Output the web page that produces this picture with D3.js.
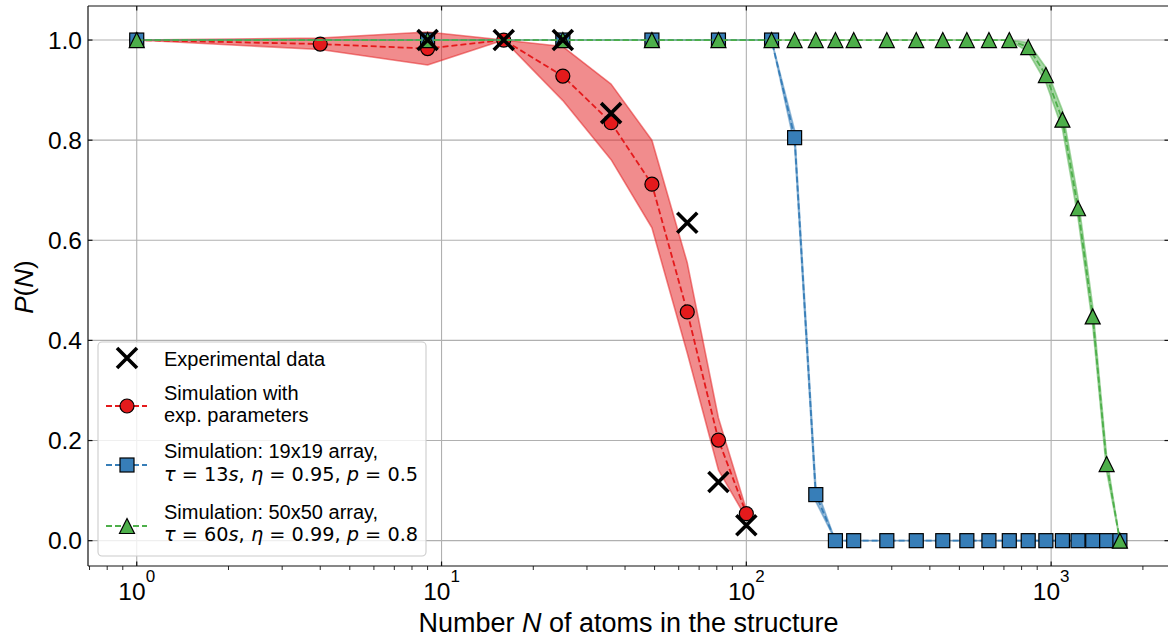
<!DOCTYPE html>
<html>
<head>
<meta charset="utf-8">
<script src="https://cdnjs.cloudflare.com/ajax/libs/d3/7.8.5/d3.min.js"></script>
<style>
body { margin: 0; background: #fff; }
text { font-family: "Liberation Sans", Arial, sans-serif; fill: #000; }
</style>
</head>
<body>
<svg width="1168" height="640"></svg>
<script>
// values
var expN = [9, 16, 25, 36, 64, 81, 100];
var expP = [1.0, 1.0, 1.0, 0.854, 0.635, 0.117, 0.031];

var redN  = [1, 4, 9, 16, 25, 36, 49, 64, 81, 100];
var redP  = [1.0, 0.992, 0.983, 1.0, 0.928, 0.835, 0.712, 0.457, 0.201, 0.054];
var redLo = [1.0, 0.981, 0.950, 1.0, 0.879, 0.761, 0.625, 0.375, 0.141, 0.045];
var redHi = [1.0, 1.004, 1.016, 1.0, 0.987, 0.912, 0.800, 0.555, 0.245, 0.062];

var simN = [1, 9, 25, 49, 81, 121, 144, 169, 196, 225, 289, 361, 441, 529, 625, 729, 841, 961, 1089, 1225, 1369, 1521, 1681];

var blueP  = [1, 1, 1, 1, 1, 1, 0.805, 0.092, 0, 0, 0, 0, 0, 0, 0, 0, 0, 0, 0, 0, 0, 0, 0];
var blueLo = [1, 1, 1, 1, 1, 1, 0.790, 0.078, 0, 0, 0, 0, 0, 0, 0, 0, 0, 0, 0, 0, 0, 0, 0];
var blueHi = [1, 1, 1, 1, 1, 1, 0.820, 0.108, 0, 0, 0, 0, 0, 0, 0, 0, 0, 0, 0, 0, 0, 0, 0];

var greenP  = [1, 1, 1, 1, 1, 1, 1, 1, 1, 1, 1, 1, 1, 1, 1, 1, 0.986, 0.930, 0.841, 0.664, 0.448, 0.153, 0];
var greenLo = [1, 1, 1, 1, 1, 1, 1, 1, 1, 1, 1, 1, 1, 1, 1, 1, 0.976, 0.915, 0.822, 0.645, 0.430, 0.138, 0];
var greenHi = [1, 1, 1, 1, 1, 1, 1, 1, 1, 1, 1, 1, 1, 1, 1, 1, 0.995, 0.945, 0.860, 0.685, 0.468, 0.168, 0];

var xTicks = [1, 10, 100, 1000];
var xTickExp = ["0", "1", "2", "3"];
var yTicks = [0, 0.2, 0.4, 0.6, 0.8, 1.0];

var red = "#e41a1c", blue = "#377eb8", green = "#4daf4a";

var svg = d3.select("svg");
svg.append("rect").attr("width", 1168).attr("height", 640).attr("fill", "white");

// plot box (right spine falls just outside the picture, as in the original)
var pLeft = 88, pRight = 1169, pTop = 6, pBottom = 566;

var x = d3.scaleLog().domain([0.692, 2436]).range([pLeft, pRight]);
var y = d3.scaleLinear().domain([-0.0506, 1.068]).range([pBottom, pTop]);

// grid
svg.append("g").selectAll("line").data(xTicks).enter().append("line")
  .attr("x1", d => x(d)).attr("x2", d => x(d))
  .attr("y1", pTop).attr("y2", pBottom)
  .attr("stroke", "#b0b0b0").attr("stroke-width", 1.1);
svg.append("g").selectAll("line").data(yTicks).enter().append("line")
  .attr("x1", pLeft).attr("x2", pRight)
  .attr("y1", d => y(d)).attr("y2", d => y(d))
  .attr("stroke", "#b0b0b0").attr("stroke-width", 1.1);

function zip(ns, ps) {
  return ns.map(function(n, i) { return [n, ps[i]]; });
}
function band(ns, lo, hi) {
  return ns.map(function(n, i) { return { n: n, lo: lo[i], hi: hi[i] }; });
}

var area = d3.area().x(d => x(d.n)).y0(d => y(d.lo)).y1(d => y(d.hi));
var line = d3.line().x(d => x(d[0])).y(d => y(d[1]));

function drawBand(ns, lo, hi, col) {
  svg.append("path")
    .attr("d", area(band(ns, lo, hi)))
    .attr("fill", col).attr("fill-opacity", 0.5)
    .attr("stroke", col).attr("stroke-opacity", 0.5).attr("stroke-width", 1.6)
    .attr("stroke-linejoin", "round");
}
function drawLine(ns, ps, col) {
  svg.append("path")
    .attr("d", line(zip(ns, ps)))
    .attr("fill", "none").attr("stroke", col)
    .attr("stroke-width", 1.8).attr("stroke-dasharray", "6,3");
}

function circle(g, cx, cy) {
  g.append("circle").attr("cx", cx).attr("cy", cy).attr("r", 7)
    .attr("fill", red).attr("stroke", "black").attr("stroke-width", 1.2);
}
function square(g, cx, cy) {
  g.append("rect").attr("x", cx - 7).attr("y", cy - 7).attr("width", 14).attr("height", 14)
    .attr("fill", blue).attr("stroke", "black").attr("stroke-width", 1.2);
}
function triangle(g, cx, cy) {
  g.append("path")
    .attr("d", "M" + cx + "," + (cy - 7.5) + "L" + (cx + 7.5) + "," + (cy + 7.5) + "L" + (cx - 7.5) + "," + (cy + 7.5) + "Z")
    .attr("fill", green).attr("stroke", "black").attr("stroke-width", 1.2).attr("stroke-linejoin", "miter");
}
function cross(g, cx, cy) {
  g.append("path")
    .attr("d", "M" + (cx - 10) + "," + (cy - 10) + "L" + (cx + 10) + "," + (cy + 10) +
               "M" + (cx - 10) + "," + (cy + 10) + "L" + (cx + 10) + "," + (cy - 10))
    .attr("stroke", "black").attr("stroke-width", 3.6).attr("fill", "none");
}

// red simulation
drawBand(redN, redLo, redHi, red);
drawLine(redN, redP, red);
var gRed = svg.append("g");
zip(redN, redP).forEach(d => circle(gRed, x(d[0]), y(d[1])));

// blue simulation
drawBand(simN, blueLo, blueHi, blue);
drawLine(simN, blueP, blue);
var gBlue = svg.append("g");
zip(simN, blueP).forEach(d => square(gBlue, x(d[0]), y(d[1])));

// green simulation
drawBand(simN, greenLo, greenHi, green);
drawLine(simN, greenP, green);
var gGreen = svg.append("g");
zip(simN, greenP).forEach(d => triangle(gGreen, x(d[0]), y(d[1])));

// experiment
var gExp = svg.append("g");
zip(expN, expP).forEach(d => cross(gExp, x(d[0]), y(d[1])));

// spines
var axisCol = "#111";
svg.append("line").attr("x1", pLeft).attr("x2", pLeft).attr("y1", pTop).attr("y2", pBottom).attr("stroke", axisCol).attr("stroke-width", 1.2);
svg.append("line").attr("x1", pRight).attr("x2", pRight).attr("y1", pTop).attr("y2", pBottom).attr("stroke", axisCol).attr("stroke-width", 1.2);
svg.append("line").attr("x1", pLeft).attr("x2", pRight).attr("y1", pTop).attr("y2", pTop).attr("stroke", axisCol).attr("stroke-width", 1.2);
svg.append("line").attr("x1", pLeft).attr("x2", pRight).attr("y1", pBottom).attr("y2", pBottom).attr("stroke", axisCol).attr("stroke-width", 1.2);

// major ticks point inwards
var ticks = svg.append("g").attr("stroke", axisCol).attr("stroke-width", 1.2);
xTicks.forEach(function(t) {
  ticks.append("line").attr("x1", x(t)).attr("x2", x(t)).attr("y1", pBottom).attr("y2", pBottom - 4.5);
  ticks.append("line").attr("x1", x(t)).attr("x2", x(t)).attr("y1", pTop).attr("y2", pTop + 4.5);
});
yTicks.forEach(function(t) {
  ticks.append("line").attr("x1", pLeft).attr("x2", pLeft + 4.5).attr("y1", y(t)).attr("y2", y(t));
  ticks.append("line").attr("x1", pRight).attr("x2", pRight - 4.5).attr("y1", y(t)).attr("y2", y(t));
});
// minor ticks on the bottom point outwards
x.ticks().filter(t => xTicks.indexOf(t) < 0).forEach(function(t) {
  ticks.append("line").attr("x1", x(t)).attr("x2", x(t)).attr("y1", pBottom).attr("y2", pBottom + 4)
    .attr("stroke-width", 0.9);
});

// tick labels
xTicks.forEach(function(t, i) {
  var tx = svg.append("text").attr("x", x(t)).attr("y", 600)
    .attr("text-anchor", "middle").style("font-size", "24.5px");
  tx.append("tspan").text("10");
  tx.append("tspan").attr("dy", -18).style("font-size", "17px").text(xTickExp[i]);
});
yTicks.forEach(function(t) {
  svg.append("text").attr("x", 82).attr("y", y(t)).attr("dy", "0.36em")
    .attr("text-anchor", "end").style("font-size", "24.5px")
    .text(d3.format(".1f")(t));
});

// axis labels
var xl = svg.append("text").attr("x", 628.5).attr("y", 632)
  .attr("text-anchor", "middle").style("font-size", "27px");
xl.append("tspan").text("Number ");
xl.append("tspan").style("font-style", "italic").text("N");
xl.append("tspan").text(" of atoms in the structure");

var yl = svg.append("text").attr("transform", "translate(33,287) rotate(-90)")
  .attr("text-anchor", "middle").style("font-size", "26px");
yl.append("tspan").style("font-style", "italic").text("P");
yl.append("tspan").text("(");
yl.append("tspan").style("font-style", "italic").text("N");
yl.append("tspan").text(")");

// legend
var lg = svg.append("g");
lg.append("rect").attr("x", 98).attr("y", 342).attr("width", 328).attr("height", 214).attr("rx", 4)
  .attr("fill", "white").attr("fill-opacity", 0.8).attr("stroke", "#cccccc").attr("stroke-width", 1.1);

function legendLine(cy, col) {
  lg.append("line").attr("x1", 106).attr("x2", 147).attr("y1", cy).attr("y2", cy)
    .attr("stroke", col).attr("stroke-width", 1.8).attr("stroke-dasharray", "6,3");
}
function legendText(yb, s) {
  lg.append("text").attr("x", 164).attr("y", yb).style("font-size", "20px").text(s);
}
function mathText(yb, parts) {
  var t = lg.append("text").attr("x", 164).attr("y", yb)
    .style("font-family", "'DejaVu Sans', sans-serif").style("font-size", "19.3px");
  parts.forEach(function(p) {
    var s = t.append("tspan").text(p[0]);
    if (p[1]) s.style("font-style", "italic");
  });
}

cross(lg, 127, 358);
legendText(365.5, "Experimental data");

legendLine(406, red);
circle(lg, 127, 406);
legendText(400, "Simulation with");
legendText(421.7, "exp. parameters");

legendLine(465, blue);
square(lg, 127, 465);
legendText(457.7, "Simulation: 19x19 array,");
mathText(480.7, [["τ", 1], [" = 13"], ["s", 1], [", "], ["η", 1], [" = 0.95, "], ["p", 1], [" = 0.5"]]);

legendLine(526, green);
triangle(lg, 127, 526);
legendText(519, "Simulation: 50x50 array,");
mathText(541, [["τ", 1], [" = 60"], ["s", 1], [", "], ["η", 1], [" = 0.99, "], ["p", 1], [" = 0.8"]]);
</script>
</body>
</html>
